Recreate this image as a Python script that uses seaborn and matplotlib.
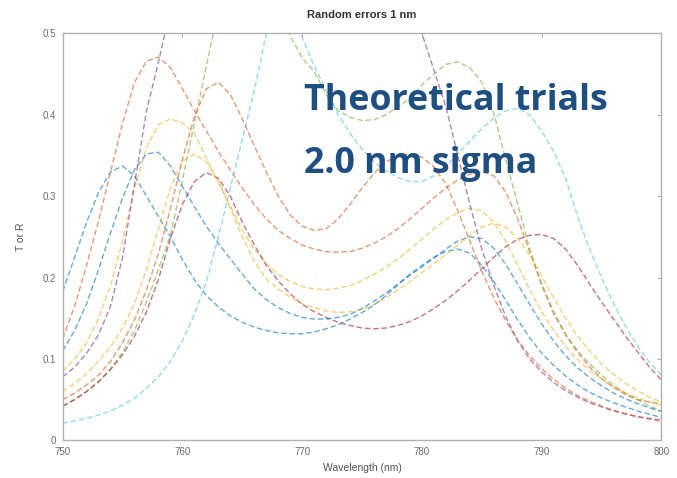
import numpy as np
import pandas as pd
import matplotlib
matplotlib.use("Agg")
import matplotlib.pyplot as plt
import seaborn as sns

wavelength = list(range(750, 801))

blue_a = [.183,.225,.268,.305,.330,.337,.325,.300,.275,.250,.222,.197,.178,.164,.153,.145,.139,.135,.132,.131,
          .131,.133,.137,.142,.149,.157,.166,.178,.191,.204,.215,.225,.232,.235,.230,.215,.195,.172,.148,.126,
          .107,.092,.079,.068,.059,.052,.046,.041,.036,.032,.028]
orange_c = [.125,.165,.215,.270,.330,.390,.440,.466,.471,.458,.432,.405,.380,.355,.332,.310,.290,.272,.258,.248,
            .240,.235,.232,.231,.232,.236,.242,.250,.260,.272,.285,.298,.310,.320,.327,.330,.325,.305,.272,.232,
            .192,.158,.130,.108,.090,.076,.065,.056,.050,.047,.045]
yellow_e = [.085,.100,.120,.150,.190,.245,.310,.360,.388,.395,.390,.378,.346,.318,.288,.258,.235,.217,.204,.195,
            .189,.186,.185,.187,.190,.196,.204,.213,.223,.235,.247,.260,.271,.280,.285,.282,.268,.245,.215,.185,
            .158,.135,.115,.099,.086,.075,.066,.058,.052,.047,.043]
purple_g = [.078,.090,.107,.130,.165,.225,.315,.405,.465,.530,.600,.660,.700,.720,.730,.730,.720,.710,.700,.690,
            .690,.690,.690,.690,.680,.670,.640,.600,.560,.530,.500,.455,.410,.350,.290,.235,.190,.152,.122,.100,
            .084,.071,.061,.053,.046,.041,.036,.032,.029,.027,.025]
green_h = [.042,.050,.060,.072,.088,.108,.135,.170,.210,.252,.320,.390,.460,.530,.580,.620,.630,.600,.530,.497,
           .470,.453,.425,.405,.397,.393,.394,.400,.410,.420,.437,.450,.462,.465,.458,.440,.402,.345,.290,.235,
           .190,.155,.130,.110,.094,.080,.068,.058,.050,.042,.036]
cyan_i = [.021,.024,.027,.031,.036,.043,.052,.064,.078,.097,.122,.155,.195,.250,.310,.370,.430,.500,.520,.520,
          .495,.460,.430,.400,.377,.358,.342,.331,.323,.318,.318,.325,.336,.352,.368,.383,.396,.405,.408,.400,
          .380,.355,.322,.275,.235,.200,.168,.140,.116,.096,.080]
red_j = [.042,.050,.060,.072,.087,.105,.128,.158,.198,.248,.290,.318,.329,.322,.300,.268,.240,.215,.196,.180,
         .167,.158,.151,.145,.141,.138,.137,.138,.141,.146,.153,.162,.172,.184,.197,.211,.225,.238,.247,.252,
         .253,.248,.235,.215,.192,.170,.149,.128,.109,.090,.074]
blue_b = [.110,.135,.168,.210,.255,.298,.333,.352,.354,.337,.312,.287,.263,.242,.223,.204,.186,.173,.163,.156,
          .151,.149,.149,.151,.155,.162,.171,.181,.192,.203,.213,.224,.235,.245,.250,.248,.236,.216,.192,.167,
          .143,.122,.104,.089,.077,.067,.058,.051,.045,.040,.035]
orange_d = [.050,.058,.068,.080,.097,.120,.148,.185,.230,.285,.345,.398,.432,.440,.425,.395,.362,.330,.300,.277,
            .263,.258,.260,.272,.290,.310,.328,.342,.350,.352,.348,.336,.315,.282,.245,.208,.175,.147,.123,.104,
            .088,.075,.064,.055,.048,.042,.037,.033,.029,.026,.023]
yellow_f = [.060,.070,.082,.097,.115,.138,.168,.210,.260,.310,.343,.352,.342,.318,.285,.250,.220,.198,.186,.176,
            .168,.163,.159,.157,.158,.161,.167,.175,.185,.195,.206,.217,.228,.240,.252,.262,.267,.262,.248,.228,
            .202,.175,.150,.128,.110,.094,.081,.070,.061,.053,.047]

trial_names = ["1", "2", "3", "4", "5", "6", "7", "8", "9", "10"]
trial_values = [blue_a, orange_c, yellow_e, purple_g, green_h, cyan_i, red_j, blue_b, orange_d, yellow_f]
trial_colors = ["#0072BD", "#D95319", "#EDB120", "#7E2F8E", "#77AC30",
                "#4DBEEE", "#A2142F", "#0072BD", "#D95319", "#EDB120"]

x_ticks = [750, 760, 770, 780, 790, 800]
y_ticks = [0, 0.1, 0.2, 0.3, 0.4, 0.5]
y_tick_labels = ["0", "0.1", "0.2", "0.3", "0.4", "0.5"]

rows = []
for name, vals in zip(trial_names, trial_values):
    for w, v in zip(wavelength, vals):
        rows.append({"trial": name, "wavelength": w, "value": v})
df = pd.DataFrame(rows)

sns.set_style("white")
plt.rcParams["font.family"] = ["Liberation Sans", "DejaVu Sans"]

fig = plt.figure(figsize=(6.77, 4.78), dpi=100)
ax = fig.add_axes([0.0926, 0.0789, 0.8844, 0.8511])

sns.lineplot(data=df, x="wavelength", y="value", hue="trial", style="trial",
             hue_order=trial_names, style_order=trial_names,
             palette=dict(zip(trial_names, trial_colors)),
             dashes=[(4, 2)] * len(trial_names), linewidth=1.0, alpha=0.6,
             legend=False, ax=ax)

ax.set_xlim(750, 800)
ax.set_ylim(0, 0.5)
ax.set_xticks(x_ticks)
ax.set_xticklabels([str(t) for t in x_ticks])
ax.set_yticks(y_ticks)
ax.set_yticklabels(y_tick_labels)
ax.tick_params(direction="in", length=3, width=0.6, colors="#9a9a9a",
               labelcolor="#6a6a6a", labelsize=7, top=True, right=True, pad=5)
for s in ax.spines.values():
    s.set_color("#b0b0b0")
    s.set_linewidth(1.0)
ax.set_xlabel("Wavelength (nm)", fontsize=7.5, color="#555555", labelpad=4)
ax.set_ylabel("T or R", fontsize=7.5, color="#555555", labelpad=12)
ax.set_title("Random errors 1 nm", fontsize=8, fontweight="bold", color="#333333", pad=11)

overlay_font = ["Open Sans", "DejaVu Sans"]
t1 = fig.text(304 / 677, 1 - 110 / 478, "Theoretical trials", fontsize=25, fontweight="bold",
              color="#1F4E80", family=overlay_font, va="baseline", ha="left")
t2 = fig.text(304 / 677, 1 - 173 / 478, "2.0 nm sigma", fontsize=25, fontweight="bold",
              color="#1F4E80", family=overlay_font, va="baseline", ha="left")
fig.canvas.draw()
w = t1.get_window_extent().width
size = 25 * 304 / w
t1.set_fontsize(size)
t2.set_fontsize(size)

fig.savefig("out.png", dpi=100)
